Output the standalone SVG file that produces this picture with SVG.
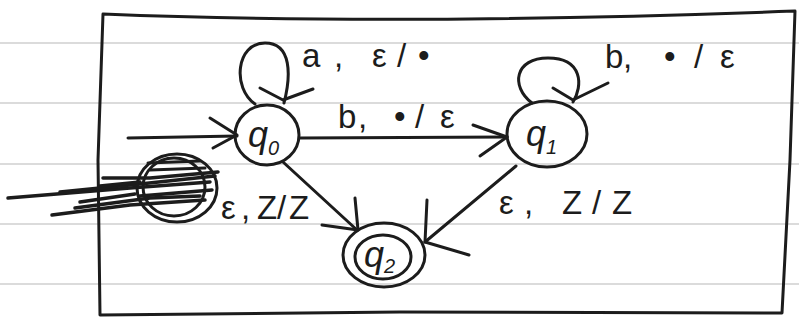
<svg xmlns="http://www.w3.org/2000/svg" width="799" height="320" viewBox="0 0 799 320">
<style>
.rule{stroke:#cfcfcf;stroke-width:1.6;fill:none}
.pen{stroke:#1c1c1c;stroke-width:3;fill:none;stroke-linecap:round;stroke-linejoin:round}
.scrib{stroke:#1c1c1c;stroke-width:3.5;fill:none;stroke-linecap:round}
.lbl{font-family:"Liberation Sans","DejaVu Sans",sans-serif;fill:#1c1c1c;font-size:33px}
.st{font-family:"Liberation Sans","DejaVu Sans",sans-serif;fill:#1c1c1c;font-size:36px;font-style:italic}
.sub{font-size:20px}
</style>
<rect width="799" height="320" fill="#ffffff"/>
<g id="paper">
<line class="rule" x1="0" y1="43" x2="799" y2="43"/>
<line class="rule" x1="0" y1="103" x2="799" y2="103"/>
<line class="rule" x1="0" y1="164" x2="799" y2="164"/>
<line class="rule" x1="0" y1="224" x2="799" y2="224"/>
<line class="rule" x1="0" y1="284" x2="799" y2="284"/>
</g>
<g id="frame">
<path class="pen" d="M103 14 Q400 26 795 11 L790 160 L782 313 L400 312 L100 315 L98 160 Z"/>
</g>
<g id="connectors">
<!-- initial arrow -->
<path class="pen" d="M128 138 L237 136"/>
<path class="pen" d="M210 118 L237 135 L213 148"/>
<!-- q0 self-loop -->
<path class="pen" d="M255 104 C232 88 236 43 265 43 C292 43 291 76 284 103"/>
<path class="pen" d="M260 88 L283 100 L313 89"/>
<!-- q0 -> q1 -->
<path class="pen" d="M300 138 L507 137"/>
<path class="pen" d="M473 125 L507 137 L480 156"/>
<!-- q1 self-loop -->
<path class="pen" d="M532 103 C510 86 515 58 548 58 C583 58 583 86 573 102"/>
<path class="pen" d="M553 88 L573 100 L608 83"/>
<!-- q0 -> q2 -->
<path class="pen" d="M283 162 L357 230"/>
<path class="pen" d="M355 198 L358 230 L322 225"/>
<!-- q1 -> q2 -->
<path class="pen" d="M516 166 L425 242"/>
<path class="pen" d="M427 200 L425 242 L469 255"/>
</g>
<g id="labels">
<text class="lbl" x="302 334 372 397 418" y="67">a,ε/•</text>
<text class="lbl" x="338 358 394 415 440" y="128">b,•/ε</text>
<text class="lbl" x="605 623 664 694 720" y="68">b,•/ε</text>
<text class="lbl" x="499 524 562 592 612" y="214">ε,Z/Z</text>
<text class="lbl" font-size="28" x="221 241 257 277 289" y="219">ε,Z/Z</text>
</g>
<g id="q0">
<ellipse class="pen" cx="267" cy="135" rx="32" ry="30"/>
<text class="st" x="248" y="147">q<tspan class="sub" dy="8">0</tspan></text>
</g>
<g id="q1">
<ellipse class="pen" cx="547" cy="134" rx="40" ry="33"/>
<text class="st" x="526" y="146">q<tspan class="sub" dy="8">1</tspan></text>
</g>
<g id="q2">
<ellipse class="pen" cx="384" cy="255" rx="41" ry="32"/>
<ellipse class="pen" cx="383" cy="257" rx="28" ry="22"/>
<text class="st" x="364" y="267" font-size="32">q<tspan class="sub" dy="6">2</tspan></text>
</g>
<g id="scratched">
<ellipse class="pen" cx="177" cy="188" rx="40" ry="34"/>
<ellipse class="pen" cx="174" cy="187" rx="31" ry="29"/>
<path class="scrib" d="M8 198 L130 188 L210 182"/>
<path class="scrib" d="M52 215 L130 205 L205 200"/>
<path class="scrib" d="M60 192 L140 184 L215 176"/>
<path class="scrib" d="M103 178 L150 178 L218 172"/>
<path class="scrib" d="M140 196 L212 190"/>
<path class="scrib" d="M75 208 L150 198 L200 196"/>
<path class="scrib" d="M80 202 L135 194"/>
<path class="scrib" d="M100 186 L140 182"/>
<path class="pen" d="M150 170 L205 168"/>
<path class="pen" d="M148 163 L200 161"/>
</g>
</svg>
